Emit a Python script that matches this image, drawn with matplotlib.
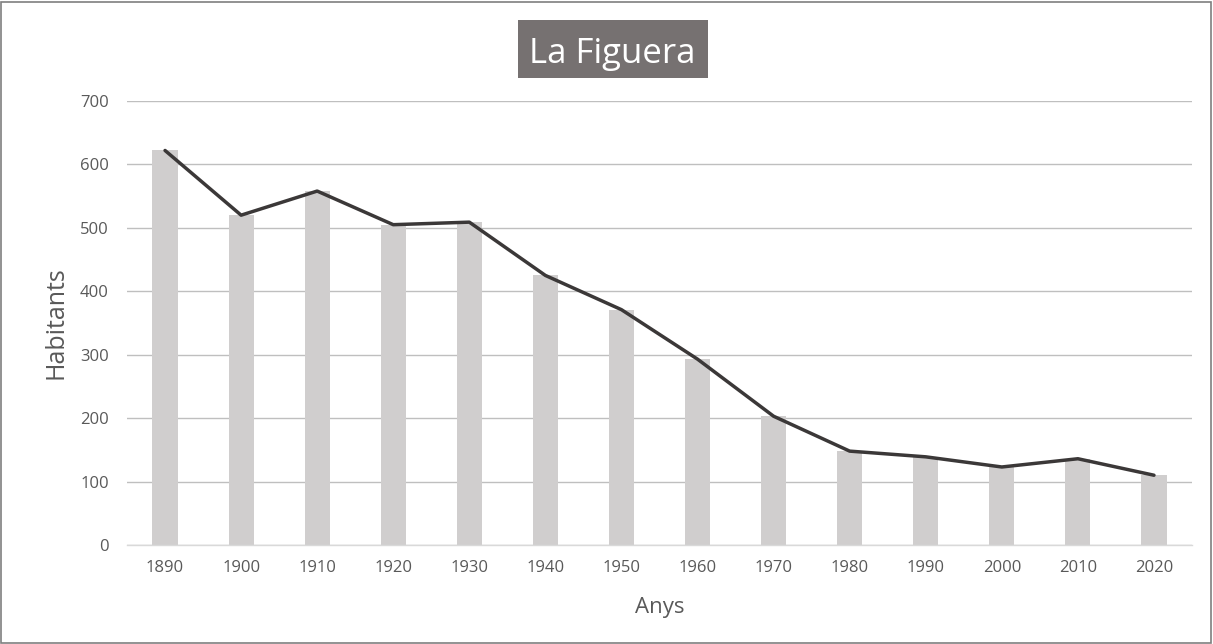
import matplotlib
matplotlib.use("Agg")
import matplotlib.pyplot as plt
from matplotlib.patches import Rectangle

years = ["1890", "1900", "1910", "1920", "1930", "1940", "1950", "1960",
         "1970", "1980", "1990", "2000", "2010", "2020"]
habitants = [622, 520, 558, 505, 509, 425, 371, 293, 203, 148, 139, 123, 136, 110]
yticks = [0, 100, 200, 300, 400, 500, 600, 700]

plt.rcParams['font.family'] = ['Open Sans', 'DejaVu Sans']

W, H = 1213, 644
fig = plt.figure(figsize=(W / 100, H / 100), dpi=100)
fig.patch.set_facecolor('white')
fig.add_artist(Rectangle((0.001, 0.001), 0.997, 0.996, transform=fig.transFigure,
                         fill=False, edgecolor='#7f7f7f', linewidth=1.2))

ax = fig.add_axes([127 / W, 1 - 545 / H, (1192 - 127) / W, (545 - 101) / H])
x = list(range(len(years)))
ax.bar(x, habitants, width=0.33, color='#D0CECE', zorder=2)
ax.plot(x, habitants, color='#3B3838', linewidth=2.5, zorder=3, solid_capstyle='round')

ax.set_xlim(-0.5, len(years) - 0.5)
ax.set_ylim(0, 700)
ax.set_yticks(yticks)
ax.set_xticks(x)
ax.set_xticklabels(years)
ax.yaxis.grid(True, color='#BFBFBF', linewidth=1.0, zorder=0)
ax.set_axisbelow(True)
for s in ['top', 'right', 'left']:
    ax.spines[s].set_visible(False)
ax.spines['bottom'].set_color('#D9D9D9')
ax.spines['bottom'].set_linewidth(1.0)
ax.tick_params(axis='both', length=0, colors='#595959', labelsize=12)
ax.tick_params(axis='x', pad=11)
ax.tick_params(axis='y', pad=13)

ax.set_xlabel('Anys', fontsize=16, color='#595959', labelpad=15)
ax.set_ylabel('Habitants', fontsize=18, color='#595959', labelpad=8)

# Title box
fig.add_artist(Rectangle((518 / W, 1 - 78 / H), (708 - 518) / W, (78 - 20) / H,
                         transform=fig.transFigure, facecolor='#767171',
                         edgecolor='none'))
fig.text(612 / W, 1 - 63 / H, 'La Figuera', ha='center', va='baseline',
         fontsize=25, color='white')

fig.savefig('out.png', dpi=100)
